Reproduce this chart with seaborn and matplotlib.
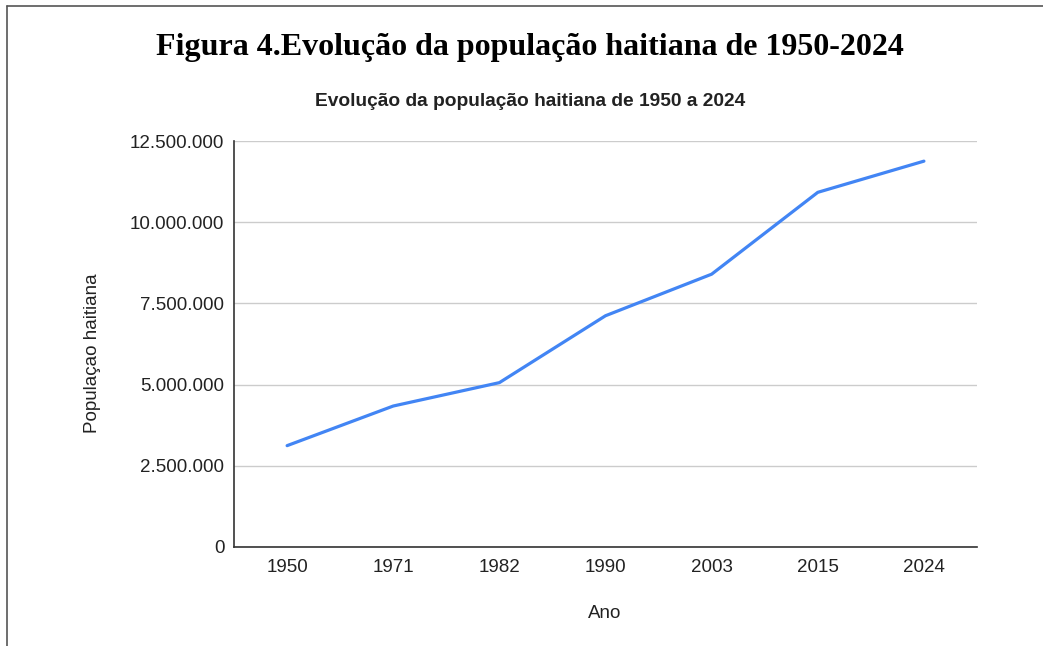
import matplotlib
matplotlib.use("Agg")
import matplotlib.pyplot as plt
import seaborn as sns
import pandas as pd
from matplotlib.lines import Line2D
from matplotlib.ticker import FuncFormatter, MultipleLocator

# values
anos = ["1950", "1971", "1982", "1990", "2003", "2015", "2024"]
populacao = [3120000, 4340000, 5060000, 7120000, 8400000, 10920000, 11880000]

df = pd.DataFrame({"Ano": anos, "Populacao": populacao})

sns.set_style("white")
plt.rcParams["font.family"] = ["Liberation Sans", "DejaVu Sans"]

fig = plt.figure(figsize=(10.43, 6.46), dpi=100)
ax = fig.add_axes([0.2244, 0.1533, 0.7123, 0.6284])

sns.lineplot(data=df, x="Ano", y="Populacao", color="#4285F4", linewidth=2.3, ax=ax, sort=False)

ax.set_xlim(-0.5, len(anos) - 0.5)
ax.set_ylim(0, 12500000)
ax.yaxis.set_major_locator(MultipleLocator(2500000))
ax.yaxis.set_major_formatter(FuncFormatter(lambda v, p: f"{int(v):,}".replace(",", ".")))
ax.grid(axis="y", color="#cccccc", linewidth=1)
ax.grid(axis="x", visible=False)
ax.set_axisbelow(True)

for s in ["top", "right"]:
    ax.spines[s].set_visible(False)
ax.spines["left"].set_color("#333333")
ax.spines["bottom"].set_color("#333333")
ax.spines["left"].set_linewidth(1.2)
ax.spines["bottom"].set_linewidth(1.2)

ax.tick_params(axis="both", length=0, labelsize=13.5, colors="#222222")
ax.tick_params(axis="y", pad=7)
ax.tick_params(axis="x", pad=9)

ax.set_xlabel("")
ax.set_ylabel("")
fig.text(0.58, 0.051, "Ano", ha="center", va="center", fontsize=13.5, color="#222222")
fig.text(0.089, 0.454, "Populaçao haitiana", ha="center", va="center", rotation=90,
         fontsize=13.5, color="#222222")

fig.text(0.508, 0.843, "Evolução da população haitiana de 1950 a 2024", ha="center", va="center",
         fontsize=13.75, fontweight="bold", color="#222222")
fig.text(0.508, 0.927, "Figura 4.Evolução da população haitiana de 1950-2024", ha="center", va="center",
         fontsize=23, fontweight="bold", family=["Liberation Serif", "DejaVu Serif"], color="black")

# page border (left and top edges)
fig.add_artist(Line2D([0.0067, 0.0067], [0.0, 0.991], color="#555555", linewidth=1.2))
fig.add_artist(Line2D([0.0067, 1.0], [0.991, 0.991], color="#555555", linewidth=1.2))

fig.savefig("out.png", dpi=100)
